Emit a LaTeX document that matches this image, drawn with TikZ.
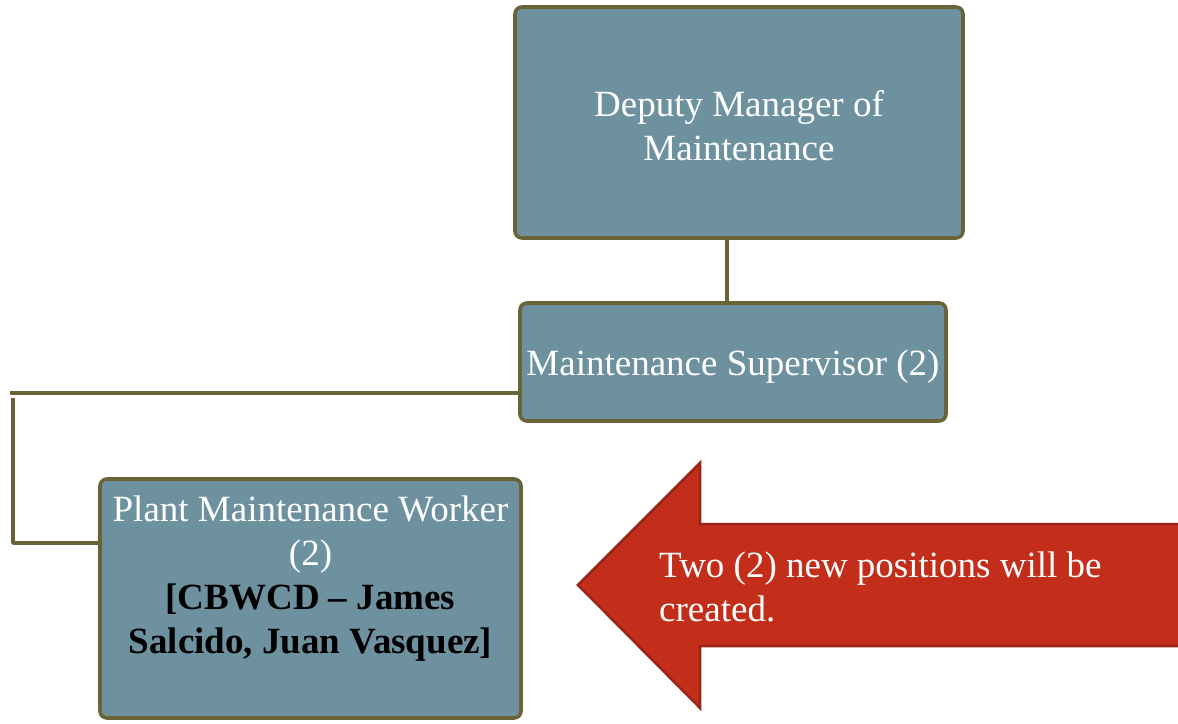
\documentclass[tikz,border=0pt]{standalone}
\usepackage{fontspec}
\setmainfont{Liberation Serif}
\definecolor{boxfill}{HTML}{6E91A0}
\definecolor{boxline}{HTML}{6B6338}
\definecolor{arrowfill}{HTML}{C32E1A}
\definecolor{arrowline}{HTML}{9A2417}
\tikzset{
  orgbox/.style={draw=boxline, fill=boxfill, line width=3.6pt, rounded corners=7pt, inner sep=0pt},
  link/.style={draw=boxline, line width=3.6pt},
  boxtext/.style={text=white, font=\fontsize{37}{44}\selectfont, align=center, inner sep=0pt},
}
\begin{document}
\begin{tikzpicture}[x=1pt, y=-1pt]
\useasboundingbox (0,0) rectangle (1178,723);
% boxes
\node[orgbox, minimum width=448pt, minimum height=231pt] (dm) at (739,122.5) {};
\node[boxtext] (dmt) at (739,126) {Deputy Manager of\\Maintenance};
\node[orgbox, minimum width=426pt, minimum height=118pt] (sup) at (733,362) {};
\node[boxtext] (supt) at (733,367) {Maintenance Supervisor (2)};
\node[orgbox, minimum width=421pt, minimum height=239pt] (pmw) at (310.5,598.5) {};
\node[boxtext, anchor=north] (pmwt) at (310.5,496) {Plant Maintenance Worker\\(2)\\\textcolor{black}{\bfseries [CBWCD -- James}\\\textcolor{black}{\bfseries Salcido, Juan Vasquez]}};
% connectors
\coordinate (cx) at (727,0);
\coordinate (ly) at (0,393);
\coordinate (l1) at (10,393);
\coordinate (v1) at (13,398);
\coordinate (v2) at (13,543);
\draw[link] (dm.south -| cx) -- (sup.north -| cx);
\draw[link] (sup.west |- ly) -- (l1);
\draw[link, line join=round] (v1) -- (v2) -- (pmw.west |- v2);
% arrow
\coordinate (a1) at (1190,524);
\coordinate (a2) at (700,524);
\coordinate (a3) at (700,463);
\coordinate (tip) at (578,585);
\coordinate (a5) at (700,708);
\coordinate (a6) at (700,646);
\coordinate (a7) at (1190,646);
\draw[fill=arrowfill, draw=arrowline, line width=2.5pt] (a1) -- (a2) -- (a3) -- (tip) -- (a5) -- (a6) -- (a7) -- cycle;
\node[boxtext, align=left, anchor=north west] (arrt) at (659,552) {Two (2) new positions will be\\created.};
\end{tikzpicture}
\end{document}
